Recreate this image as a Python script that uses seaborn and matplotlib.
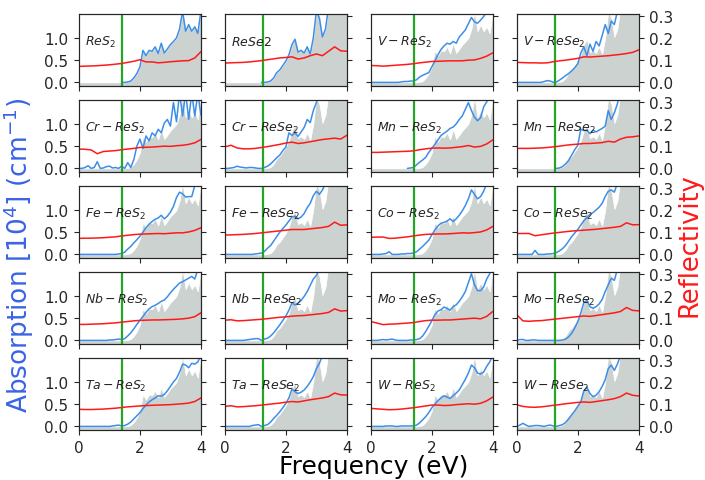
import numpy as np
import pandas as pd
import matplotlib
matplotlib.use("Agg")
import matplotlib.pyplot as plt
import seaborn as sns

nan = np.nan
energy_abs = np.round(np.arange(41) * 0.1, 1)
energy_ref = np.round(np.arange(21) * 0.2, 1)

gap_ReS2 = 1.42
gap_ReSe2 = 1.24

# absorption (10^4 cm^-1), 0.1 eV step
abs_ReS2 = [nan]*14 + [0.0, 0.0, 0.01, 0.03, 0.1, 0.2, 0.35, 0.72, 0.6, 0.72, 0.7, 0.8, 0.65, 0.88, 0.66, 0.75, 0.85, 0.92, 1.0, 1.2, 1.6, 1.15, 1.3, 1.15, 1.25, 1.1, 1.6]
abs_ReSe2 = [nan]*12 + [0.0, 0.0, 0.01, 0.03, 0.1, 0.22, 0.28, 0.38, 0.48, 0.62, 0.85, 0.97, 0.68, 0.72, 0.66, 0.8, 0.64, 1.0, 1.6, 1.45, 1.02, 1.2, 1.7, 1.8, 1.8, 1.8, 1.8, 1.8, 1.8]
abs_V_ReS2 = [0.0]*10 + [0.01, 0.02, 0.02, 0.03, 0.03, 0.06, 0.12, 0.16, 0.19, 0.22, 0.35, 0.48, 0.62, 0.74, 0.82, 0.88, 0.86, 0.92, 0.88, 1.02, 1.1, 1.18, 1.32, 1.46, 1.36, 1.33, 1.4, 1.48, 1.6, 1.7, 1.8]
abs_V_ReSe2 = [0.0]*9 + [0.02, 0.04, 0.03, 0.0, 0.01, 0.05, 0.1, 0.15, 0.2, 0.26, 0.33, 0.42, 0.66, 0.8, 0.6, 0.86, 0.7, 0.92, 0.82, 1.05, 1.3, 1.1, 1.38, 1.3, 1.6] + [1.8]*7
abs_Cr_ReS2 = [0.0, 0.0, 0.02, 0.06, 0.0, 0.02, 0.15, 0.0, 0.01, 0.04, 0.05, 0.01, 0.02, 0.0, 0.05, 0.0, 0.13, 0.02, 0.2, 0.5, 0.66, 0.45, 0.73, 0.62, 0.8, 0.73, 0.88, 0.8, 1.02, 1.1, 0.95, 1.48, 1.05, 1.7, 1.18, 1.7, 1.1, 1.7, 1.18, 1.7, 1.2]
abs_Cr_ReSe2 = [0.0, 0.0, 0.01, 0.02, 0.05, 0.03, 0.02, 0.01, 0.02, 0.02, 0.01, 0.0, 0.0, 0.02, 0.05, 0.1, 0.17, 0.24, 0.3, 0.4, 0.48, 0.8, 0.74, 0.8, 0.72, 0.82, 0.92, 1.1, 1.03, 1.3, 1.48] + [1.8]*10
abs_Mn_ReS2 = [nan]*12 + [0.0, 0.01, 0.02, 0.08, 0.14, 0.19, 0.25, 0.36, 0.45, 0.54, 0.64, 0.74, 0.79, 0.84, 0.9, 0.93, 1.0, 1.1, 1.18, 1.33, 1.48, 1.3, 1.15, 1.07, 1.14, 1.38, 1.5, 1.6, 1.7]
abs_Mn_ReSe2 = [nan]*13 + [0.0, 0.01, 0.04, 0.1, 0.18, 0.3, 0.42, 0.52, 0.88, 0.85, 0.86, 0.78, 0.86, 0.82, 0.86, 0.9, 0.95, 1.3, 1.1, 1.25, 1.45] + [1.8]*7
abs_Fe_ReS2 = [0.0]*13 + [0.01, 0.02, 0.05, 0.12, 0.18, 0.26, 0.33, 0.41, 0.5, 0.6, 0.68, 0.74, 0.79, 0.82, 0.88, 0.8, 0.86, 0.95, 1.08, 1.28, 1.4, 1.36, 1.29, 1.3, 1.3, 1.55, 1.7, 1.8]
abs_Fe_ReSe2 = [0.0]*10 + [0.01, 0.02, 0.03, 0.07, 0.14, 0.2, 0.3, 0.4, 0.5, 0.58, 0.66, 0.75, 0.84, 0.86, 0.8, 0.84, 0.92, 1.05, 1.15, 1.32, 1.42, 1.35, 1.45, 1.6] + [1.8]*7
abs_Co_ReS2 = [0.0, 0.0, 0.0, 0.0, 0.01, 0.02, 0.06, 0.0, 0.0, 0.0, 0.01, 0.01, 0.02, 0.02, 0.03, 0.06, 0.12, 0.18, 0.25, 0.32, 0.44, 0.55, 0.64, 0.7, 0.72, 0.75, 0.8, 0.74, 0.8, 0.88, 0.98, 1.1, 1.25, 1.45, 1.35, 1.25, 1.3, 1.42, 1.6, 1.7, 1.8]
abs_Co_ReSe2 = [0.0]*6 + [0.09, 0.0, 0.0, 0.0, 0.01, 0.01, 0.02, 0.04, 0.08, 0.13, 0.2, 0.3, 0.4, 0.48, 0.56, 0.66, 0.76, 0.83, 0.9, 0.94, 1.0, 1.06, 1.15, 1.3, 1.42, 1.45, 1.4, 1.6] + [1.8]*7
abs_Nb_ReS2 = [0.0]*10 + [0.01, 0.01, 0.02, 0.03, 0.02, 0.04, 0.1, 0.17, 0.26, 0.36, 0.45, 0.54, 0.63, 0.71, 0.76, 0.79, 0.83, 0.88, 0.91, 0.98, 1.07, 1.15, 1.22, 1.29, 1.32, 1.36, 1.4, 1.44, 1.38, 1.6, 1.8]
abs_Nb_ReSe2 = [0.0]*7 + [0.01, 0.02, 0.03, 0.04, 0.04, 0.0, 0.03, 0.05, 0.1, 0.17, 0.26, 0.35, 0.45, 0.55, 0.68, 0.84, 0.8, 0.84, 0.9, 0.99, 1.1, 1.24, 1.38, 1.46, 1.6] + [1.8]*9
abs_Mo_ReS2 = [0.0, 0.0, 0.0, 0.01, 0.02, 0.01, 0.02, 0.03, 0.01, 0.0, 0.0, 0.0, 0.0, 0.01, 0.01, 0.02, 0.04, 0.1, 0.2, 0.32, 0.44, 0.58, 0.66, 0.69, 0.75, 0.72, 0.68, 0.76, 0.8, 0.88, 0.98, 1.1, 1.3, 1.5, 1.25, 1.12, 1.12, 1.2, 1.38, 1.5, 1.7]
abs_Mo_ReSe2 = [0.0, 0.02, 0.02, 0.0, 0.0, 0.01, 0.01, 0.0, 0.0, 0.0, 0.0, 0.0, 0.0, 0.0, 0.0, 0.01, 0.03, 0.08, 0.16, 0.28, 0.42, 0.62, 0.85, 0.9, 0.76, 0.72, 0.76, 0.82, 0.92, 1.1, 1.25, 1.4, 1.35, 1.6] + [1.8]*7
abs_Ta_ReS2 = [0.0]*11 + [0.01, 0.02, 0.03, 0.01, 0.02, 0.05, 0.1, 0.17, 0.24, 0.31, 0.4, 0.48, 0.55, 0.6, 0.64, 0.69, 0.68, 0.72, 0.8, 0.9, 1.0, 1.08, 1.22, 1.4, 1.38, 1.32, 1.42, 1.4, 1.45, 1.6]
abs_Ta_ReSe2 = [0.0]*9 + [0.02, 0.03, 0.04, 0.0, 0.02, 0.04, 0.1, 0.18, 0.25, 0.33, 0.42, 0.52, 0.64, 0.84, 0.78, 0.74, 0.77, 0.82, 0.9, 1.0, 1.12, 1.3, 1.42, 1.6] + [1.8]*8
abs_W_ReS2 = [0.0, 0.0, 0.0, 0.0, 0.0, 0.01, 0.01, 0.01, 0.0, 0.0, 0.01, 0.01, 0.01, 0.01, 0.01, 0.03, 0.08, 0.15, 0.22, 0.31, 0.42, 0.5, 0.58, 0.64, 0.69, 0.66, 0.63, 0.69, 0.75, 0.82, 0.94, 1.06, 1.2, 1.38, 1.32, 1.2, 1.18, 1.22, 1.35, 1.45, 1.6]
abs_W_ReSe2 = [0.0, 0.03, 0.07, 0.03, 0.0, 0.01, 0.02, 0.02, 0.01, 0.0, 0.02, 0.03, 0.01, 0.0, 0.02, 0.04, 0.09, 0.17, 0.26, 0.35, 0.45, 0.56, 0.8, 0.88, 0.74, 0.67, 0.7, 0.78, 0.9, 1.05, 1.3, 1.38, 1.26, 1.4, 1.6] + [1.8]*6

# reflectivity, 0.2 eV step
ref_ReS2 = [0.072, 0.073, 0.074, 0.075, 0.077, 0.079, 0.082, 0.085, 0.09, 0.095, 0.102, 0.092, 0.092, 0.088, 0.09, 0.093, 0.095, 0.097, 0.098, 0.11, 0.138]
ref_ReSe2 = [0.087, 0.088, 0.089, 0.09, 0.092, 0.095, 0.098, 0.102, 0.106, 0.11, 0.112, 0.115, 0.105, 0.11, 0.12, 0.128, 0.12, 0.14, 0.16, 0.142, 0.14]
ref_V_ReS2 = [0.076, 0.075, 0.073, 0.075, 0.077, 0.079, 0.081, 0.084, 0.088, 0.091, 0.094, 0.095, 0.096, 0.097, 0.097, 0.097, 0.1, 0.101, 0.108, 0.118, 0.133]
ref_V_ReSe2 = [0.09, 0.089, 0.088, 0.088, 0.087, 0.088, 0.093, 0.097, 0.1, 0.104, 0.108, 0.115, 0.114, 0.116, 0.118, 0.12, 0.123, 0.126, 0.13, 0.135, 0.146]
ref_Cr_ReS2 = [0.087, 0.086, 0.083, 0.066, 0.076, 0.078, 0.08, 0.084, 0.087, 0.09, 0.094, 0.095, 0.096, 0.098, 0.1, 0.099, 0.102, 0.104, 0.108, 0.115, 0.13]
ref_Cr_ReSe2 = [0.097, 0.104, 0.092, 0.088, 0.088, 0.09, 0.094, 0.098, 0.103, 0.108, 0.114, 0.118, 0.112, 0.115, 0.12, 0.125, 0.13, 0.133, 0.136, 0.132, 0.149]
ref_Mn_ReS2 = [0.072, 0.072, 0.073, 0.074, 0.075, 0.076, 0.077, 0.079, 0.084, 0.088, 0.091, 0.092, 0.091, 0.092, 0.095, 0.098, 0.103, 0.096, 0.099, 0.11, 0.128]
ref_Mn_ReSe2 = [0.09, 0.09, 0.09, 0.091, 0.092, 0.094, 0.097, 0.1, 0.104, 0.107, 0.109, 0.112, 0.112, 0.114, 0.116, 0.122, 0.118, 0.132, 0.14, 0.142, 0.146]
ref_Fe_ReS2 = [0.072, 0.073, 0.073, 0.074, 0.075, 0.077, 0.079, 0.083, 0.086, 0.089, 0.091, 0.092, 0.093, 0.094, 0.093, 0.095, 0.097, 0.097, 0.101, 0.108, 0.12]
ref_Fe_ReSe2 = [0.087, 0.088, 0.089, 0.09, 0.092, 0.094, 0.097, 0.1, 0.103, 0.106, 0.109, 0.112, 0.112, 0.112, 0.115, 0.118, 0.121, 0.126, 0.145, 0.131, 0.133]
ref_Co_ReS2 = [0.077, 0.078, 0.078, 0.072, 0.073, 0.076, 0.079, 0.083, 0.087, 0.09, 0.091, 0.092, 0.092, 0.093, 0.095, 0.097, 0.096, 0.098, 0.101, 0.11, 0.126]
ref_Co_ReSe2 = [0.094, 0.094, 0.094, 0.084, 0.088, 0.092, 0.096, 0.099, 0.102, 0.105, 0.107, 0.109, 0.111, 0.113, 0.116, 0.119, 0.122, 0.126, 0.142, 0.133, 0.134]
ref_Nb_ReS2 = [0.072, 0.072, 0.073, 0.074, 0.075, 0.077, 0.079, 0.082, 0.085, 0.088, 0.09, 0.091, 0.092, 0.092, 0.093, 0.094, 0.095, 0.097, 0.1, 0.107, 0.124]
ref_Nb_ReSe2 = [0.091, 0.093, 0.088, 0.089, 0.091, 0.093, 0.095, 0.098, 0.101, 0.104, 0.106, 0.109, 0.111, 0.112, 0.115, 0.118, 0.121, 0.126, 0.142, 0.132, 0.134]
ref_Mo_ReS2 = [0.085, 0.078, 0.071, 0.073, 0.074, 0.076, 0.078, 0.08, 0.085, 0.089, 0.091, 0.091, 0.092, 0.092, 0.094, 0.096, 0.098, 0.1, 0.097, 0.108, 0.13]
ref_Mo_ReSe2 = [0.115, 0.088, 0.086, 0.088, 0.089, 0.092, 0.095, 0.098, 0.101, 0.104, 0.107, 0.11, 0.108, 0.112, 0.116, 0.12, 0.124, 0.13, 0.148, 0.135, 0.133]
ref_Ta_ReS2 = [0.077, 0.076, 0.076, 0.077, 0.078, 0.08, 0.082, 0.085, 0.088, 0.09, 0.092, 0.094, 0.095, 0.096, 0.097, 0.098, 0.1, 0.102, 0.105, 0.112, 0.128]
ref_Ta_ReSe2 = [0.09, 0.093, 0.088, 0.089, 0.091, 0.093, 0.096, 0.099, 0.102, 0.105, 0.109, 0.112, 0.11, 0.115, 0.12, 0.124, 0.128, 0.134, 0.15, 0.142, 0.141]
ref_W_ReS2 = [0.081, 0.079, 0.077, 0.075, 0.076, 0.078, 0.081, 0.084, 0.088, 0.092, 0.096, 0.096, 0.094, 0.095, 0.098, 0.1, 0.102, 0.1, 0.104, 0.115, 0.132]
ref_W_ReSe2 = [0.097, 0.09, 0.087, 0.086, 0.088, 0.091, 0.095, 0.098, 0.102, 0.105, 0.108, 0.11, 0.108, 0.112, 0.116, 0.12, 0.125, 0.134, 0.15, 0.14, 0.137]

panel_labels = [r"$ReS_2$", r"$ReSe2$", r"$V-ReS_2$", r"$V-ReSe_2$",
                r"$Cr-ReS_2$", r"$Cr-ReSe_2$", r"$Mn-ReS_2$", r"$Mn-ReSe_2$",
                r"$Fe-ReS_2$", r"$Fe-ReSe_2$", r"$Co-ReS_2$", r"$Co-ReSe_2$",
                r"$Nb-ReS_2$", r"$Nb-ReSe_2$", r"$Mo-ReS_2$", r"$Mo-ReSe_2$",
                r"$Ta-ReS_2$", r"$Ta-ReSe_2$", r"$W-ReS_2$", r"$W-ReSe_2$"]
panel_abs = [abs_ReS2, abs_ReSe2, abs_V_ReS2, abs_V_ReSe2,
             abs_Cr_ReS2, abs_Cr_ReSe2, abs_Mn_ReS2, abs_Mn_ReSe2,
             abs_Fe_ReS2, abs_Fe_ReSe2, abs_Co_ReS2, abs_Co_ReSe2,
             abs_Nb_ReS2, abs_Nb_ReSe2, abs_Mo_ReS2, abs_Mo_ReSe2,
             abs_Ta_ReS2, abs_Ta_ReSe2, abs_W_ReS2, abs_W_ReSe2]
panel_ref = [ref_ReS2, ref_ReSe2, ref_V_ReS2, ref_V_ReSe2,
             ref_Cr_ReS2, ref_Cr_ReSe2, ref_Mn_ReS2, ref_Mn_ReSe2,
             ref_Fe_ReS2, ref_Fe_ReSe2, ref_Co_ReS2, ref_Co_ReSe2,
             ref_Nb_ReS2, ref_Nb_ReSe2, ref_Mo_ReS2, ref_Mo_ReSe2,
             ref_Ta_ReS2, ref_Ta_ReSe2, ref_W_ReS2, ref_W_ReSe2]

sns.set_style("ticks")
plt.rcParams['font.family'] = ['DejaVu Sans']
plt.rcParams['mathtext.fontset'] = 'dejavusans'

BLUE = '#3d8ee8'
RED = '#ff1a1a'
GREEN = '#25a525'
FILL = '#ccd2cf'

fig, axes = plt.subplots(5, 4, figsize=(7.05, 4.81), dpi=100, sharex=True)
fig.subplots_adjust(left=0.112, right=0.906, top=0.969, bottom=0.104,
                    wspace=0.197, hspace=0.194)

YL = (-0.08, 1.54)
for i, ax in enumerate(axes.flat):
    r, c = divmod(i, 4)
    is_s2 = (c % 2 == 0)
    host = abs_ReS2 if is_s2 else abs_ReSe2
    gap = gap_ReS2 if is_s2 else gap_ReSe2
    fill_vals = np.nan_to_num(np.array(host, dtype=float), nan=0.0)
    ax.fill_between(energy_abs, YL[0] - 0.1, fill_vals, color=FILL,
                    edgecolor='white', linewidth=0.5, zorder=1)
    df_a = pd.DataFrame({'E': energy_abs, 'A': panel_abs[i]})
    sns.lineplot(data=df_a, x='E', y='A', ax=ax, color=BLUE, lw=1.1,
                 estimator=None, zorder=3)
    ax.axvline(gap, color=GREEN, lw=1.6, zorder=4)
    ax.text(0.05, 0.62, panel_labels[i], transform=ax.transAxes,
            fontsize=9, va='center', ha='left', zorder=6)
    ax.set_xlim(0, 4)
    ax.set_ylim(*YL)
    ax.set_xticks([0, 2, 4])
    ax.set_yticks([0.0, 0.5, 1.0])
    ax.set_xlabel('')
    ax.set_ylabel('')
    ax.tick_params(direction='out', length=3.5, width=0.8, labelsize=11)
    ax.tick_params(axis='x', pad=4)
    ax.tick_params(axis='y', pad=4)
    if c != 0:
        ax.set_yticklabels([])
    else:
        ax.set_yticklabels(['0.0', '0.5', '1.0'])
    if r != 4:
        ax.tick_params(labelbottom=False)
    ax2 = ax.twinx()
    df_r = pd.DataFrame({'E': energy_ref, 'R': panel_ref[i]})
    sns.lineplot(data=df_r, x='E', y='R', ax=ax2, color=RED, lw=1.1,
                 estimator=None)
    ax2.set_ylim(YL[0] / 5, YL[1] / 5)
    ax2.set_yticks([0.0, 0.1, 0.2, 0.3])
    ax2.set_ylabel('')
    ax2.tick_params(direction='out', length=3.5, width=0.8, labelsize=11, pad=4)
    if c != 3:
        ax2.set_yticklabels([])
    else:
        ax2.set_yticklabels(['0.0', '0.1', '0.2', '0.3'])
    for a in (ax, ax2):
        for s in a.spines.values():
            s.set_linewidth(0.8)
            s.set_visible(True)

fig.text(0.027, 0.47, r'Absorption [10$^4$] (cm$^{-1}$)', rotation=90,
         color='#3a64e6', fontsize=19, va='center', ha='center')
fig.text(0.978, 0.49, 'Reflectivity', rotation=90, color=RED,
         fontsize=18.5, va='center', ha='center')
fig.text(0.53, 0.004, 'Frequency (eV)', color='black', fontsize=18,
         va='bottom', ha='center')

fig.savefig('out.png', dpi=100)
